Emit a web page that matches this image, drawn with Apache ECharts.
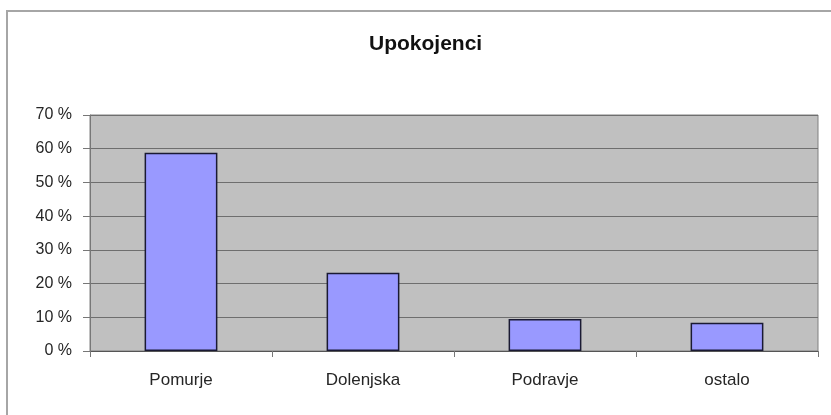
<!DOCTYPE html>
<html>
<head>
<meta charset="utf-8">
<script src="https://cdn.jsdelivr.net/npm/echarts@6/dist/echarts.min.js"></script>
<style>
  html, body { margin: 0; padding: 0; background: #ffffff; }
  #chart { width: 831px; height: 415px; }
</style>
</head>
<body>
<div id="chart"></div>
<script>
// Data
const categories = ['Pomurje', 'Dolenjska', 'Podravje', 'ostalo'];
const shares = [58.8, 23.2, 9.5, 8.4];
const yTicks = [0, 10, 20, 30, 40, 50, 60, 70];

const chart = echarts.init(document.getElementById('chart'));

const textColor = '#262626';
const fontFamily = '"Liberation Sans", Arial, sans-serif';

chart.setOption({
  animation: false,
  title: {
    text: 'Upokojenci',
    left: 364,
    top: 29,
    textStyle: { fontFamily, fontSize: 21, fontWeight: 'bold', color: '#111111' }
  },
  // outer chart border
  graphic: [{
    type: 'rect',
    shape: { x: 7, y: 11, width: 840, height: 420 },
    style: { fill: 'none', stroke: '#a6a6a6', lineWidth: 2 },
    silent: true
  }],
  grid: {
    left: 90,
    right: 13,
    top: 115,
    bottom: 64,
    show: true,
    backgroundColor: '#c0c0c0',
    borderColor: '#808080',
    borderWidth: 1
  },
  xAxis: {
    type: 'category',
    data: categories,
    axisLine: { lineStyle: { color: '#555555', width: 1 } },
    axisTick: { show: true, length: 6, alignWithLabel: false, lineStyle: { color: '#777777' } },
    axisLabel: { color: textColor, fontFamily, fontSize: 17, margin: 21 }
  },
  yAxis: {
    type: 'value',
    min: yTicks[0],
    max: yTicks[yTicks.length - 1],
    interval: 10,
    axisLine: { show: true, lineStyle: { color: '#777777', width: 1 } },
    axisTick: { show: true, length: 7, lineStyle: { color: '#777777' } },
    axisLabel: { color: textColor, fontFamily, fontSize: 16, margin: 18, formatter: '{value} %' },
    splitLine: { show: true, lineStyle: { color: '#6e6e6e', width: 1 } }
  },
  series: [{
    type: 'bar',
    data: shares,
    barCategoryGap: '60%',
    itemStyle: { color: '#9999ff', borderColor: '#1a1a33', borderWidth: 1.5 }
  }]
});
</script>
</body>
</html>
